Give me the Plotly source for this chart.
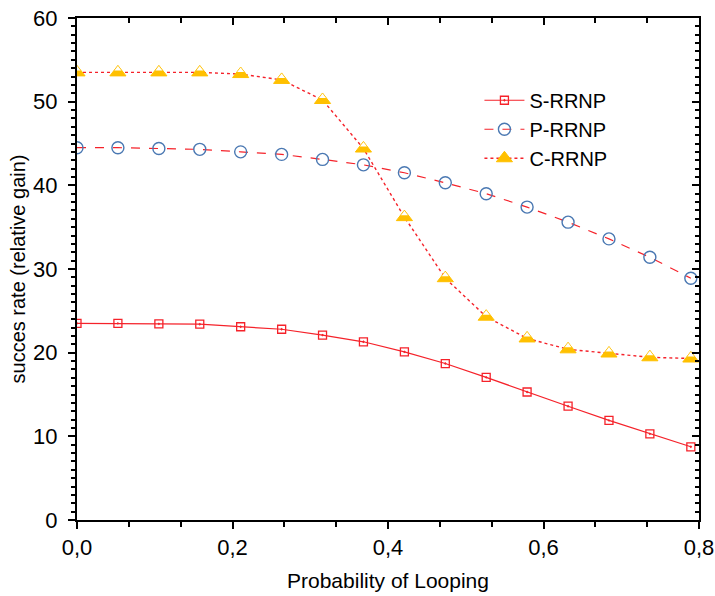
import plotly.graph_objects as go

# ---- data ----
loop_prob = [0.0, 0.0526, 0.1053, 0.1579, 0.2105, 0.2632, 0.3158, 0.3684,
             0.4211, 0.4737, 0.5263, 0.5789, 0.6316, 0.6842, 0.7368, 0.7895]
s_rrnp = [23.5, 23.5, 23.45, 23.4, 23.1, 22.8, 22.1, 21.3,
          20.1, 18.7, 17.05, 15.3, 13.6, 11.9, 10.3, 8.75]
p_rrnp = [44.5, 44.5, 44.4, 44.3, 44.0, 43.7, 43.1, 42.45,
          41.5, 40.3, 39.0, 37.4, 35.6, 33.6, 31.4, 28.9]
c_rrnp = [53.5, 53.5, 53.5, 53.5, 53.3, 52.6, 50.2, 44.4,
          36.2, 28.9, 24.3, 21.7, 20.4, 19.9, 19.45, 19.3]
x_range = [0, 0.8]
y_range = [0, 60]

W, H = 715, 596
M = dict(l=77, r=16, t=18, b=76)
plot_h = H - M["t"] - M["b"]

RED = "#f5222a"
BLUE = "#4a78b2"
GOLD = "#ffc000"
FONT = "Liberation Sans, Arial, sans-serif"

tri_size = 14
# shift (in data units) for the white top half of the half-filled triangle
shift = (tri_size / 4) * (y_range[1] - y_range[0]) / plot_h

fig = go.Figure()
fig.add_trace(go.Scatter(
    x=loop_prob, y=s_rrnp, name="S-RRNP", mode="lines+markers",
    line=dict(color=RED, width=1.2, dash="solid"),
    marker=dict(symbol="square-open-dot", size=8, color=RED, line=dict(width=1.3, color=RED)),
))
fig.add_trace(go.Scatter(
    x=loop_prob, y=p_rrnp, name="P-RRNP", mode="lines+markers",
    line=dict(color=RED, width=1.2, dash="dash"),
    marker=dict(symbol="circle-open", size=12, color=BLUE, line=dict(width=1.4, color=BLUE)),
))
fig.add_trace(go.Scatter(
    x=loop_prob, y=c_rrnp, name="C-RRNP", mode="lines+markers",
    line=dict(color=RED, width=1.4, dash="dot"),
    marker=dict(symbol="triangle-up", size=tri_size, color=GOLD, line=dict(width=1, color=GOLD)),
))
fig.add_trace(go.Scatter(
    x=loop_prob, y=[v + shift for v in c_rrnp], mode="markers", showlegend=False,
    hoverinfo="skip",
    marker=dict(symbol="triangle-up", size=tri_size / 2 - 1, color="white", line=dict(width=0)),
))
# helper trace so the mirrored (top/right) axes are drawn
fig.add_trace(go.Scatter(x=[None], y=[None], xaxis="x2", yaxis="y2",
                         showlegend=False, hoverinfo="skip"))

tickfont = dict(family=FONT, size=22, color="black")

fig.update_layout(
    width=W, height=H, margin=M,
    paper_bgcolor="white", plot_bgcolor="white",
    separators=",.",
    font=dict(family=FONT, color="black"),
    showlegend=True,
    legend=dict(x=0.647, y=0.875, xanchor="left", yanchor="top",
                bgcolor="rgba(0,0,0,0)", font=dict(family=FONT, size=20, color="black"),
                tracegroupgap=0, itemwidth=40),
    xaxis=dict(range=x_range, dtick=0.2, tick0=0, tickformat=".1f",
               showgrid=False, zeroline=False, automargin=False,
               showline=True, linecolor="black", linewidth=2, mirror=True,
               ticks="outside", ticklen=7, tickwidth=2, tickcolor="black",
               minor=dict(dtick=0.2 / 3, tick0=0, ticks="outside", ticklen=5,
                          tickwidth=1.5, tickcolor="black", showgrid=False),
               tickfont=tickfont,
               title=dict(text="Probability of Looping",
                          font=dict(family=FONT, size=21, color="black"), standoff=14)),
    yaxis=dict(range=y_range, dtick=10, tick0=0,
               showgrid=False, zeroline=False, automargin=False,
               showline=True, linecolor="black", linewidth=2, mirror=True,
               ticks="outside", ticklen=7, tickwidth=2, tickcolor="black",
               minor=dict(dtick=1, tick0=0, ticks="outside", ticklen=4,
                          tickwidth=1.5, tickcolor="black", showgrid=False),
               tickfont=tickfont, ticklabelstandoff=6,
               title=dict(text="succes rate (relative gain)",
                          font=dict(family=FONT, size=20, color="black"), standoff=2)),
    xaxis2=dict(range=x_range, overlaying="x", side="top", anchor="y",
                dtick=0.2, tick0=0, showticklabels=False, showgrid=False,
                zeroline=False, showline=False, automargin=False,
                ticks="inside", ticklen=7, tickwidth=2, tickcolor="black",
                minor=dict(dtick=0.2 / 3, tick0=0, ticks="inside", ticklen=5,
                           tickwidth=1.5, tickcolor="black", showgrid=False)),
    yaxis2=dict(range=y_range, overlaying="y", side="right", anchor="x",
                dtick=10, tick0=0, showticklabels=False, showgrid=False,
                zeroline=False, showline=False, automargin=False,
                ticks="inside", ticklen=7, tickwidth=2, tickcolor="black",
                minor=dict(dtick=1, tick0=0, ticks="inside", ticklen=4,
                           tickwidth=1.5, tickcolor="black", showgrid=False)),
)

fig.write_html("out.html", config={"displayModeBar": False},
               post_script="document.body.style.margin='0';document.body.style.overflow='hidden';")
